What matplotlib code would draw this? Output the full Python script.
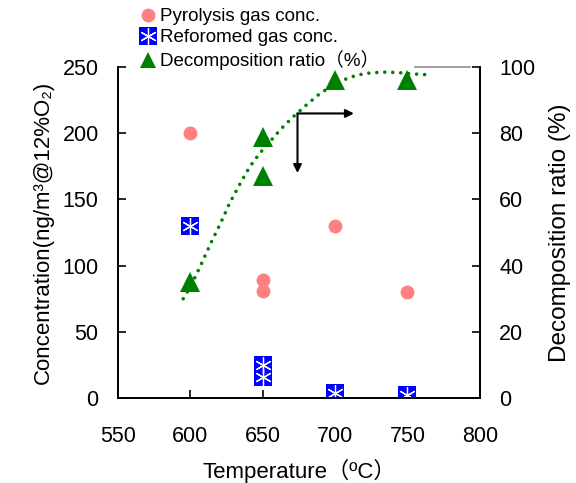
import matplotlib
matplotlib.use('Agg')
import matplotlib.pyplot as plt
from matplotlib.lines import Line2D

plt.rcParams['font.family'] = ['Liberation Sans', 'DejaVu Sans', 'Noto Sans CJK JP']

# data
pyro_t = [600, 650, 650, 700, 750]
pyro_c = [200, 89, 81, 130, 80]

reform_t = [600, 650, 650, 700, 750]
reform_c = [130, 25, 16, 4, 2]

decomp_t = [600, 650, 650, 700, 750]
decomp_r = [35, 79, 67, 96, 96]

# trend line
trend_t = [595, 600, 607, 614, 621, 627, 634, 641, 648, 655, 663, 671, 680, 688, 695, 705,
           715, 725, 735, 745, 752, 760, 767]
trend_r = [30, 33.6, 40, 46.7, 53, 58.8, 64.5, 69.9, 74, 77.5, 81.5, 85, 88.5, 91.5, 93.6, 96,
           97.6, 98.3, 98.5, 98.3, 98, 97.8, 97.6]

arrow_corner = (674, 215)
arrow_right = (713, 215)
arrow_down = (674, 170)

fig = plt.figure(figsize=(5.76, 4.83), dpi=100)
ax = fig.add_axes([0.205, 0.176, 0.628, 0.685])
ax2 = ax.twinx()

ax.plot(pyro_t, pyro_c, 'o', color='#FF8080', markersize=10, markeredgewidth=0, zorder=3)
ax.plot(reform_t, reform_c, 's', color='#0000FF', markersize=13, markeredgewidth=0, zorder=3)
ax.plot(reform_t, reform_c, marker=(6, 2, 0), linestyle='none', color='white',
        markersize=12, markeredgewidth=0.9, zorder=4)

ax2.plot(trend_t, trend_r, color='#008000', linestyle=(0, (0.01, 2.2)), linewidth=2.6,
         dash_capstyle='round', zorder=2)
ax2.plot(decomp_t, decomp_r, '^', color='#008000', markersize=14, markeredgewidth=0, zorder=3)

# arrows
ax.annotate('', xy=arrow_right, xytext=arrow_corner,
            arrowprops=dict(arrowstyle='-|>', color='black', lw=1.5, mutation_scale=12,
                            shrinkA=0, shrinkB=0))
ax.annotate('', xy=arrow_down, xytext=arrow_corner,
            arrowprops=dict(arrowstyle='-|>', color='black', lw=1.5, mutation_scale=12,
                            shrinkA=0, shrinkB=0))

ax.set_xlim(550, 800)
ax.set_ylim(0, 250)
ax2.set_ylim(0, 100)
ax.set_xticks([550, 600, 650, 700, 750, 800])
ax.set_yticks([0, 50, 100, 150, 200, 250])
ax2.set_yticks([0, 20, 40, 60, 80, 100])

for a in (ax, ax2):
    a.spines['top'].set_visible(False)
    for s in a.spines.values():
        s.set_linewidth(1.3)
ax.tick_params(axis='both', direction='in', length=6, width=1.2, labelsize=15.5)
ax.tick_params(axis='x', pad=20)
ax.tick_params(axis='y', pad=14)
ax2.tick_params(axis='y', direction='in', length=6, width=1.2, labelsize=15.5, pad=14)

# short grey line at the top right
ax.plot([755, 793], [250, 250], color='#999999', linewidth=1.3, clip_on=False)

ax.set_ylabel('Concentration(ng/m³@12%O₂)', fontsize=16, labelpad=6)
ax2.set_ylabel('Decomposition ratio (%)', fontsize=17.5, labelpad=10)
fig.text(0.52, 1 - 471 / 483, 'Temperature（ºC）', fontsize=16, ha='center', va='center',
         family=['Liberation Sans', 'Noto Sans CJK JP'])

h1 = Line2D([], [], marker='o', color='#FF8080', linestyle='none', markersize=10, markeredgewidth=0)
h2a = Line2D([], [], marker='s', color='#0000FF', linestyle='none', markersize=13, markeredgewidth=0)
h2b = Line2D([], [], marker=(6, 2, 0), color='white', linestyle='none', markersize=12,
             markeredgewidth=0.9)
h3 = Line2D([], [], marker='^', color='#008000', linestyle='none', markersize=12, markeredgewidth=0)
leg = fig.legend([h1, (h2a, h2b), h3],
                 ['Pyrolysis gas conc.', 'Reforomed gas conc.', 'Decomposition ratio（%）'],
                 loc='upper left', bbox_to_anchor=(0.22, 1.01), frameon=False,
                 handlelength=0.9, handletextpad=0.2, labelspacing=0.2, borderpad=0.2,
                 prop={'family': ['Liberation Sans', 'Noto Sans CJK JP'], 'size': 13.5})

fig.savefig('out.png', dpi=100)
